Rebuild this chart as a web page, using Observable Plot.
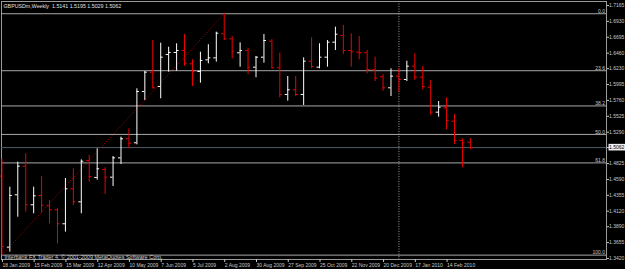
<!DOCTYPE html>
<html><head><meta charset="utf-8">
<script src="https://cdn.jsdelivr.net/npm/d3@7"></script>
<script src="https://cdn.jsdelivr.net/npm/@observablehq/plot@0.6"></script>
<style>html,body{margin:0;padding:0;background:#000;overflow:hidden;}</style>
</head><body><div id="chart"></div>
<script>
const weeks = ["2009-01-18","2009-01-25","2009-02-01","2009-02-08","2009-02-15","2009-02-22","2009-03-01","2009-03-08","2009-03-15","2009-03-22","2009-03-29","2009-04-05","2009-04-12","2009-04-19","2009-04-26","2009-05-03","2009-05-10","2009-05-17","2009-05-24","2009-05-31","2009-06-07","2009-06-14","2009-06-21","2009-06-28","2009-07-05","2009-07-12","2009-07-19","2009-07-26","2009-08-02","2009-08-09","2009-08-16","2009-08-23","2009-08-30","2009-09-06","2009-09-13","2009-09-20","2009-09-27","2009-10-04","2009-10-11","2009-10-18","2009-10-25","2009-11-01","2009-11-08","2009-11-15","2009-11-22","2009-11-29","2009-12-06","2009-12-13","2009-12-20","2009-12-27","2010-01-03","2010-01-10","2010-01-17","2010-01-24","2010-01-31","2010-02-07","2010-02-14","2010-02-21","2010-02-28","2010-03-07"];
const open  = [1.4640,1.3588,1.4363,1.4787,1.4215,1.4353,1.4200,1.4141,1.3934,1.4452,1.4259,1.4871,1.4620,1.4738,1.4624,1.4910,1.5192,1.5133,1.5892,1.6178,1.5966,1.6440,1.6470,1.6499,1.6302,1.6188,1.6361,1.6390,1.6746,1.6672,1.6465,1.6499,1.6252,1.6400,1.6637,1.6243,1.5848,1.5917,1.5848,1.6341,1.6252,1.6400,1.6622,1.6721,1.6499,1.6474,1.6465,1.6213,1.6110,1.5947,1.6119,1.6070,1.6267,1.6104,1.5956,1.5586,1.5651,1.5453,1.5167,1.5141];
const high  = [1.4890,1.4476,1.4846,1.4970,1.4476,1.4634,1.4279,1.4156,1.4604,1.4748,1.4880,1.4945,1.5044,1.4763,1.4930,1.5216,1.5340,1.5932,1.6188,1.6647,1.6607,1.6548,1.6598,1.6736,1.6361,1.6474,1.6584,1.6770,1.7043,1.6706,1.6612,1.6533,1.6410,1.6736,1.6660,1.6460,1.6114,1.6114,1.6390,1.6687,1.6598,1.6647,1.6844,1.6869,1.6746,1.6706,1.6499,1.6400,1.6144,1.6228,1.6228,1.6341,1.6450,1.6262,1.6055,1.5744,1.5799,1.5552,1.5192,1.5195];
const low   = [1.3470,1.3514,1.4031,1.4106,1.4082,1.4091,1.3934,1.3638,1.3810,1.4205,1.4082,1.4550,1.4580,1.4368,1.4486,1.4812,1.5044,1.5103,1.5759,1.5932,1.5784,1.6178,1.6193,1.6267,1.5966,1.6015,1.6302,1.6326,1.6647,1.6376,1.6252,1.6144,1.6095,1.6311,1.6228,1.5799,1.5749,1.5818,1.5685,1.6228,1.6228,1.6252,1.6499,1.6440,1.6252,1.6361,1.6154,1.6040,1.5897,1.5818,1.5882,1.6040,1.6055,1.5917,1.5537,1.5512,1.5325,1.5108,1.4763,1.5029];
const close = [1.3598,1.4353,1.4787,1.4215,1.4348,1.4210,1.4141,1.3934,1.4452,1.4259,1.4860,1.4634,1.4748,1.4624,1.4910,1.5192,1.5127,1.5892,1.6178,1.5947,1.6400,1.6470,1.6499,1.6311,1.6188,1.6351,1.6390,1.6755,1.6672,1.6489,1.6499,1.6252,1.6400,1.6647,1.6243,1.5848,1.5917,1.5848,1.6341,1.6262,1.6400,1.6622,1.6740,1.6499,1.6480,1.6465,1.6218,1.6090,1.5947,1.6119,1.6070,1.6267,1.6104,1.5966,1.5586,1.5660,1.5463,1.5167,1.5133,1.5062];
const yTicks = [1.7165,1.6930,1.6695,1.6460,1.6230,1.5995,1.5760,1.5525,1.5290,1.5062,1.4825,1.4590,1.4355,1.4120,1.3890,1.3655,1.3420];
const xTicks = ["2009-01-18","2009-02-15","2009-03-15","2009-04-12","2009-05-10","2009-06-07","2009-07-05","2009-08-02","2009-08-30","2009-09-27","2009-10-25","2009-11-22","2009-12-20","2010-01-17","2010-02-14"];
const fibLevels = [0, 23.6, 38.2, 50, 61.8, 100];
const separators = ["2010-01-03"];
const titleText = "GBPUSDm,Weekly  1.5141 1.5195 1.5029 1.5062";
const creditText = "Interbank FX Trader 4, \u00a9 2001-2009 MetaQuotes Software Corp.";

const UP = "#ffffff", DOWN = "#ee0000";
const bars = weeks.map((w, i) => ({date: new Date(w), o: open[i], h: high[i], l: low[i], c: close[i]}));
const barColor = d => d.c >= d.o ? UP : DOWN;
const TICK = 2.2 * 864e5;

const hiBar = bars.reduce((a, b) => b.h > a.h ? b : a);
const loBar = bars.reduce((a, b) => b.l < a.l ? b : a);
const fib = fibLevels.map(p => ({p, v: hiBar.h - p / 100 * (hiBar.h - loBar.l)}));
const last = bars[bars.length - 1];

const svg = Plot.plot({
  width: 625, height: 269,
  marginTop: 1, marginLeft: 1, marginRight: 19, marginBottom: 10,
  style: {background: "#000", color: "#c8c8c8", fontFamily: "Liberation Sans, Arial, sans-serif", fontSize: "5px"},
  x: {type: "utc", domain: [bars[0].date, last.date], range: [1.4, 469.9]},
  y: {domain: [1.3420, 1.7165], range: [258, 5]},
  marks: [
    Plot.frame({stroke: "#9a9a9a"}),
    Plot.ruleY(fib, {y: "v", stroke: "#a8a8a8"}),
    Plot.text(fib, {y: "v", text: d => d.p.toFixed(1), frameAnchor: "right", textAnchor: "end", lineAnchor: "bottom", dx: -1.5, dy: -0.8, fill: "#c8c8c8", fontSize: 5}),
    Plot.ruleY([last.c], {stroke: "#4f5b66"}),
    Plot.ruleX(separators.map(s => new Date(s)), {stroke: "#9a9a9a", strokeDasharray: "1 1.5"}),
    Plot.link([{x1: loBar.date, y1: loBar.l, x2: hiBar.date, y2: hiBar.h}], {x1: "x1", y1: "y1", x2: "x2", y2: "y2", stroke: "#b00000", strokeWidth: 1, strokeDasharray: "1 1.8"}),
    Plot.ruleX(bars, {x: "date", y1: "l", y2: "h", stroke: barColor}),
    Plot.ruleY(bars, {y: "o", x1: d => new Date(+d.date - TICK), x2: "date", stroke: barColor}),
    Plot.ruleY(bars, {y: "c", x1: "date", x2: d => new Date(+d.date + TICK), stroke: barColor}),
    Plot.axisY({anchor: "right", ticks: yTicks, tickFormat: d => d.toFixed(4), tickSize: 2, tickPadding: 0.5, fontSize: 5, label: null}),
    Plot.axisX({anchor: "bottom", ticks: xTicks.map(s => new Date(s)), tickFormat: d3.utcFormat("%-d %b %Y"), tickSize: 3, tickPadding: 1, textAnchor: "start", dx: 0.5, fontSize: 5, label: null}),
    Plot.text([titleText], {text: d => d, frameAnchor: "top-left", textAnchor: "start", lineAnchor: "top", dx: 2, dy: 2.3, fill: "#e0e0e0", fontSize: 5.3}),
    Plot.text([creditText], {text: d => d, frameAnchor: "bottom-left", textAnchor: "start", lineAnchor: "bottom", dx: 3, dy: -0.5, fill: "#d0d0d0", fontSize: 5.5})
  ]
});
document.getElementById("chart").append(svg);
const cur = last.c.toFixed(4);
svg.querySelectorAll("text").forEach(t => {
  if (t.textContent === cur) {
    const b = t.getBBox();
    const r = document.createElementNS("http://www.w3.org/2000/svg", "rect");
    r.setAttribute("x", b.x - 0.5); r.setAttribute("y", b.y - 0.3);
    r.setAttribute("width", b.width + 1.5); r.setAttribute("height", b.height + 0.6);
    r.setAttribute("fill", "#f0f0f0");
    if (t.getAttribute("transform")) r.setAttribute("transform", t.getAttribute("transform"));
    t.parentNode.insertBefore(r, t);
    t.setAttribute("fill", "#000");
  }
});
</script>
</body></html>
